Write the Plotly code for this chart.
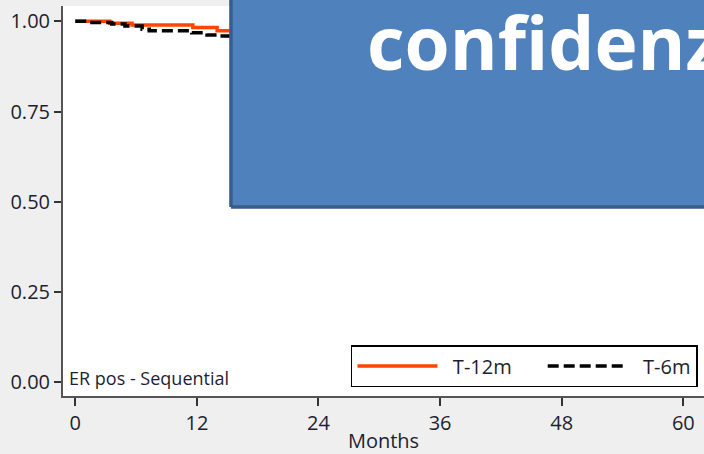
import plotly.graph_objects as go

# Data
months_t12 = [0, 3.4, 5.6, 11.6, 14.0, 16.0]
surv_t12 = [1.0, 0.9945, 0.990, 0.983, 0.974, 0.974]

months_t6 = [0, 1.4, 3.6, 4.9, 6.6, 7.3, 11.5, 13.0, 14.3, 16.0]
surv_t6 = [1.0, 0.997, 0.9925, 0.987, 0.978, 0.974, 0.968, 0.962, 0.959, 0.959]

x_ticks = [0, 12, 24, 36, 48, 60]
y_ticks = [0, 0.25, 0.5, 0.75, 1.0]
y_ticktext = ["0.00", "0.25", "0.50", "0.75", "1.00"]

FONT = "Open Sans"
TXT = "#1e1e30"
NB = "\u00a0"

fig = go.Figure()
fig.add_trace(go.Scatter(x=months_t12, y=surv_t12, mode="lines", name=NB * 2 + "T-12m" + NB * 5,
                         line=dict(color="#ff4500", width=3.5, shape="hv")))
fig.add_trace(go.Scatter(x=months_t6, y=surv_t6, mode="lines", name=NB * 2 + "T-6m",
                         line=dict(color="black", width=3.5, shape="hv", dash="11px,5px")))

fig.update_layout(
    width=704, height=454,
    margin=dict(l=63, r=0, t=6, b=58, pad=0),
    paper_bgcolor="#efefef", plot_bgcolor="white",
    font=dict(family=FONT, size=18, color=TXT),
    showlegend=True,
    legend=dict(orientation="h", x=0.9906, xanchor="right", y=0.023, yanchor="bottom",
                bordercolor="black", borderwidth=1.5, bgcolor="white",
                font=dict(family=FONT, size=20, color=TXT), itemwidth=80),
    xaxis=dict(range=[-1.21, 62.04], tickvals=x_ticks, ticks="outside", ticklen=8,
               tickwidth=1.5, tickcolor="#333", showline=True, linecolor="#555",
               linewidth=2, showgrid=False, zeroline=False, automargin=False,
               tickfont=dict(family=FONT, size=20, color=TXT),
               title=dict(text="Months", font=dict(family=FONT, size=20, color=TXT), standoff=6)),
    yaxis=dict(range=[-0.0388, 1.0425], tickvals=y_ticks, ticktext=y_ticktext,
               ticks="outside", ticklen=7, tickwidth=1.5, tickcolor="#333",
               showline=True, linecolor="#555", linewidth=2, showgrid=False,
               zeroline=False, automargin=False,
               tickfont=dict(family=FONT, size=20, color=TXT)),
)

fig.add_annotation(text="ER pos - Sequential", xref="paper", yref="paper",
                   x=0.006, y=0.046, xanchor="left", yanchor="middle", showarrow=False,
                   font=dict(family=FONT, size=18, color=TXT))

# overlay box (fill, then left and bottom borders)
fig.add_shape(type="rect", xref="paper", yref="paper", x0=0.262, x1=1.2, y0=0.4846, y1=1.2,
              fillcolor="#4f81bd", line=dict(width=0), layer="above")
fig.add_shape(type="line", xref="paper", yref="paper", x0=0.262, x1=0.262, y0=0.4846, y1=1.2,
              line=dict(color="#385d8a", width=3.5), layer="above")
fig.add_shape(type="line", xref="paper", yref="paper", x0=0.262, x1=1.2, y0=0.4846, y1=0.4846,
              line=dict(color="#385d8a", width=3.5), layer="above")

fig.add_annotation(text="<b>confidenz</b>", xref="paper", yref="paper",
                   x=0.4711, y=0.909, xanchor="left", yanchor="middle", showarrow=False,
                   font=dict(family=FONT, size=73, color="white"))

fig.write_html("out.html", config={"displayModeBar": False},
               post_script="document.body.style.margin='0';document.body.style.padding='0';"
                           "document.body.style.background='#efefef';")
